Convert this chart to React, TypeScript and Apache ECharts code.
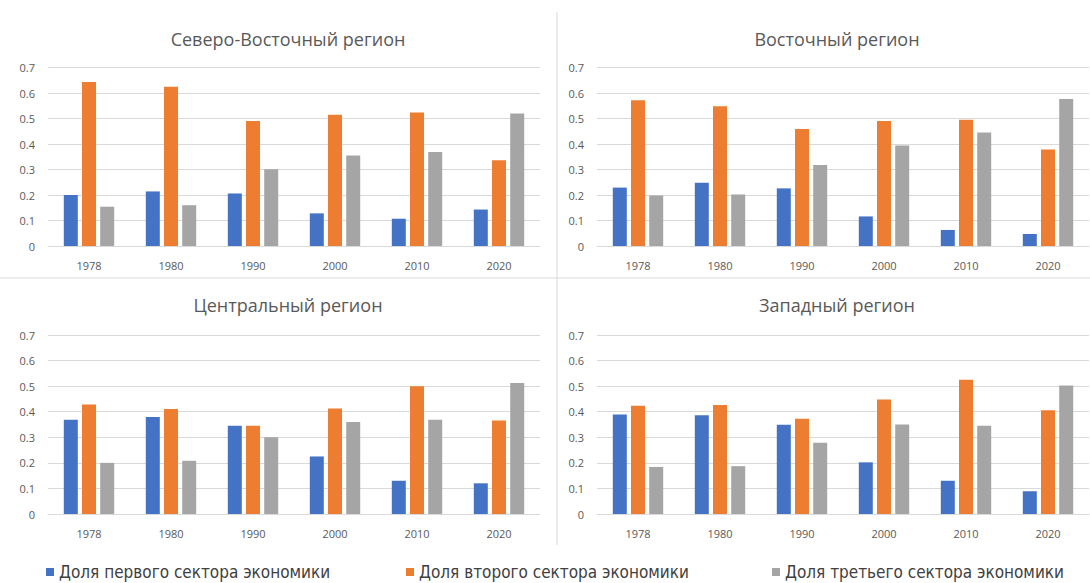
import React, { useEffect, useRef } from "react";
import * as echarts from "echarts";

const years = ["1978", "1980", "1990", "2000", "2010", "2020"];
const sectorNames = [
  "Доля первого сектора экономики",
  "Доля второго сектора экономики",
  "Доля третьего сектора экономики",
];
const regionTitles = [
  "Северо-Восточный регион",
  "Восточный регион",
  "Центральный регион",
  "Западный регион",
];

const northeastPrimary = [0.2, 0.214, 0.206, 0.128, 0.107, 0.143];
const northeastSecondary = [0.643, 0.625, 0.49, 0.515, 0.524, 0.336];
const northeastTertiary = [0.154, 0.16, 0.301, 0.355, 0.369, 0.52];

const eastPrimary = [0.229, 0.248, 0.226, 0.116, 0.063, 0.047];
const eastSecondary = [0.572, 0.548, 0.459, 0.49, 0.495, 0.378];
const eastTertiary = [0.198, 0.202, 0.318, 0.394, 0.445, 0.576];

const centralPrimary = [0.369, 0.379, 0.345, 0.225, 0.13, 0.12];
const centralSecondary = [0.428, 0.411, 0.345, 0.413, 0.5, 0.366];
const centralTertiary = [0.2, 0.208, 0.3, 0.36, 0.369, 0.512];

const westPrimary = [0.389, 0.386, 0.349, 0.202, 0.13, 0.089];
const westSecondary = [0.423, 0.426, 0.372, 0.448, 0.525, 0.406];
const westTertiary = [0.184, 0.187, 0.279, 0.35, 0.345, 0.503];

const regionData = [
  [northeastPrimary, northeastSecondary, northeastTertiary],
  [eastPrimary, eastSecondary, eastTertiary],
  [centralPrimary, centralSecondary, centralTertiary],
  [westPrimary, westSecondary, westTertiary],
];

const colors = ["#4472C4", "#ED7D31", "#A5A5A5"];
const font = "'Open Sans', 'Noto Sans', sans-serif";

const grids = [
  { left: 48, top: 67.5, width: 492, height: 178.5 },
  { left: 597, top: 67.5, width: 492, height: 178.5 },
  { left: 48, top: 335, width: 492, height: 179 },
  { left: 597, top: 335, width: 492, height: 179 },
];
const titlePos = [
  { x: 283, y: 25 },
  { x: 832, y: 25 },
  { x: 283, y: 291 },
  { x: 832, y: 291 },
];
const legendLefts = [46, 406, 772];

export default function App() {
  const ref = useRef<HTMLDivElement>(null);
  useEffect(() => {
    if (!ref.current) return;
    const chart = echarts.init(ref.current, undefined, { renderer: "svg" });
    const series: any[] = [];
    regionData.forEach((sets, gi) => {
      sets.forEach((vals, si) => {
        series.push({
          type: "bar",
          name: sectorNames[si],
          xAxisIndex: gi,
          yAxisIndex: gi,
          data: vals,
          barWidth: 14,
          barGap: "30%",
          itemStyle: { color: colors[si] },
        });
      });
    });
    chart.setOption({
      animation: false,
      backgroundColor: "#ffffff",
      color: colors,
      title: regionTitles.map((t, i) => ({
        text: t,
        left: titlePos[i].x,
        top: titlePos[i].y,
        textAlign: "center",
        textStyle: {
          fontFamily: font,
          fontSize: 18,
          fontWeight: "normal",
          color: "#595959",
        },
      })),
      grid: grids,
      xAxis: grids.map((_, i) => ({
        type: "category",
        gridIndex: i,
        data: years,
        axisLine: { lineStyle: { color: "#d9d9d9" } },
        axisTick: { show: false },
        axisLabel: {
          color: "#595959",
          fontFamily: font,
          fontSize: 11,
          margin: 14,
        },
      })),
      yAxis: grids.map((_, i) => ({
        type: "value",
        gridIndex: i,
        min: 0,
        max: 0.7,
        interval: 0.1,
        axisLine: { show: false },
        axisTick: { show: false },
        splitLine: { lineStyle: { color: "#d9d9d9" } },
        axisLabel: {
          color: "#595959",
          fontFamily: font,
          fontSize: 11,
          margin: 13,
          formatter: (v: number) => (v === 0 ? "0" : v.toFixed(1)),
        },
      })),
      legend: sectorNames.map((n, i) => ({
        data: [n],
        left: legendLefts[i],
        top: 563,
        padding: 0,
        icon: "rect",
        itemWidth: 8,
        itemHeight: 8,
        itemGap: 6,
        textStyle: {
          fontFamily: "'Liberation Sans Narrow', 'DejaVu Sans Condensed', 'Roboto Condensed', sans-serif",
          fontSize: 17,
          lineHeight: 18,
          color: "#404040",
        },
      })),
      graphic: [
        {
          type: "line",
          shape: { x1: 557, y1: 12, x2: 557, y2: 545 },
          style: { stroke: "#d9d9d9", lineWidth: 1 },
        },
        {
          type: "line",
          shape: { x1: 0, y1: 278, x2: 1090, y2: 278 },
          style: { stroke: "#d9d9d9", lineWidth: 1 },
        },
      ],
      series,
    });
    return () => chart.dispose();
  }, []);
  return (
    <div
      ref={ref}
      style={{ position: "fixed", left: 0, top: 0, width: 1090, height: 583 }}
    />
  );
}
